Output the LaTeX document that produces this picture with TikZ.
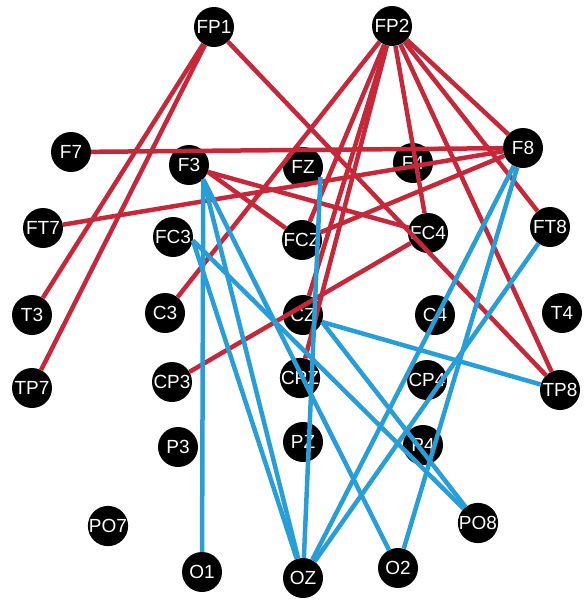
\documentclass[tikz,border=0pt]{standalone}
\usepackage{fontspec}
\setmainfont{Liberation Sans}
\definecolor{linkred}{RGB}{198,40,58}
\definecolor{linkblue}{RGB}{40,158,216}
\begin{document}
\begin{tikzpicture}[x=1pt,y=-1pt,
  elec/.style={circle,fill=black,minimum size=40pt,inner sep=0pt,text=white,
    font=\fontsize{19}{19}\selectfont},
  redlink/.style={draw=linkred,line width=4.5pt},
  bluelink/.style={draw=linkblue,line width=4.5pt}]
\useasboundingbox (0,0) rectangle (584,600);
% electrodes
\node[elec] (FP1) at (214,27) {FP1};
\node[elec] (FP2) at (392,26) {FP2};
\node[elec] (F7) at (71,152) {F7};
\node[elec] (F3) at (189,165) {F3};
\node[elec] (FZ) at (303,167) {FZ};
\node[elec] (F4) at (413,163) {F4};
\node[elec] (F8) at (523,148) {F8};
\node[elec] (FT7) at (43,228) {FT7};
\node[elec] (FC3) at (173,237) {FC3};
\node[elec] (FCZ) at (302,240) {FCZ};
\node[elec] (FC4) at (428,233) {FC4};
\node[elec] (FT8) at (550,227) {FT8};
\node[elec] (T3) at (32,315) {T3};
\node[elec] (C3) at (165,313) {C3};
\node[elec] (CZ) at (303,315) {CZ};
\node[elec] (C4) at (435,315) {C4};
\node[elec] (T4) at (562,313) {T4};
\node[elec] (TP7) at (32,388) {TP7};
\node[elec] (CP3) at (172,382) {CP3};
\node[elec] (CPZ) at (300,378) {CPZ};
\node[elec] (CP4) at (427,380) {CP4};
\node[elec] (TP8) at (560,390) {TP8};
\node[elec] (P3) at (178,447) {P3};
\node[elec] (PZ) at (303,442) {PZ};
\node[elec] (P4) at (423,445) {P4};
\node[elec] (PO7) at (108,526) {PO7};
\node[elec] (PO8) at (478,523) {PO8};
\node[elec] (O1) at (202,572) {O1};
\node[elec] (OZ) at (303,578) {OZ};
\node[elec] (O2) at (398,568) {O2};
% red connections
\draw[redlink] (FP1) -- (T3);
\draw[redlink] (FP1) -- (TP7);
\draw[redlink] (FP1) -- (TP8);
\draw[redlink] (F7) -- (F8);
\draw[redlink] (FT7) -- (F8);
\draw[redlink] (F3.-20) -- (FC4);
\draw[redlink] (F3.-20) -- (FCZ);
\draw[redlink] (CP3) -- (FC4);
\draw[redlink] (FCZ) -- (F8);
\draw[redlink] (FP2) -- (C3);
\draw[redlink] (FP2) -- (FCZ);
\draw[redlink] (FP2) -- (CZ);
\draw[redlink] (FP2) -- (CPZ);
\draw[redlink] (FP2) -- (FC4);
\draw[redlink] (FP2) -- (F8);
\draw[redlink] (FP2) -- (FT8);
\draw[redlink] (FP2) -- (TP8);
% blue connections
\draw[bluelink] (F3.-45) -- (O1);
\draw[bluelink] (F3.-45) -- (OZ);
\draw[bluelink] (F3.-45) -- (O2);
\draw[bluelink] (FC3.-10) -- (OZ);
\draw[bluelink] (FC3.-10) -- (PO8);
\draw[bluelink] (FZ.-30) -- (OZ);
\draw[bluelink] (CZ.-20) -- (TP8);
\draw[bluelink] (CZ.-20) -- (PO8);
\draw[bluelink] (F8) -- (OZ);
\draw[bluelink] (F8) -- (O2);
\draw[bluelink] (FT8) -- (OZ);
\end{tikzpicture}
\end{document}
